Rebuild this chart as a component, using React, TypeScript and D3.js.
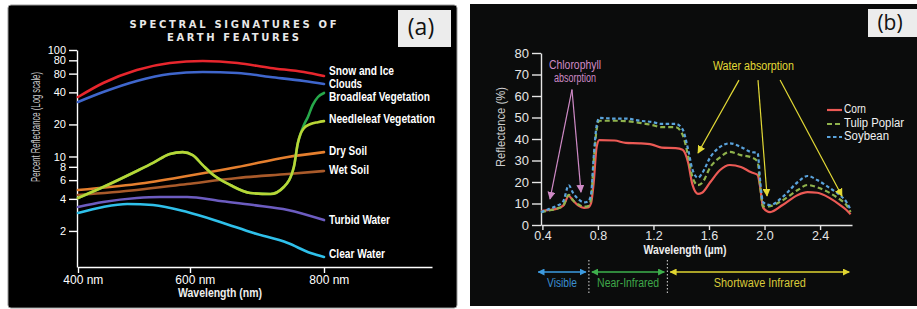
import React, { useRef, useEffect } from 'react';
import * as d3 from 'd3';

// ---------- panel (a): spectral signatures of earth features ----------
const snowNm = [400, 445, 505, 564, 619, 671, 720, 770, 800];
const snowPct = [36.2, 49, 64.9, 75.5, 78.8, 75.5, 67.8, 62.1, 57];
const cloudsPct = [32.5, 40.3, 51.2, 59.5, 62.1, 60.8, 55.8, 51.2, 48];

const broadleafNm = [400, 445, 505, 534, 564, 587, 604, 619, 635, 660, 690, 720, 740, 755, 761, 765, 770, 776, 783, 791, 800];
const broadleafPct = [4.08, 5.17, 7.31, 8.7, 10.55, 11.0, 10.3, 8.3, 6.7, 5.4, 4.54, 4.44, 5.17, 7.96, 13.4, 16.3, 19.8, 23.5, 30.4, 36.2, 39.5];
const needleleafNm = [400, 445, 505, 534, 564, 587, 604, 619, 635, 660, 690, 720, 740, 755, 761, 765, 770, 780, 791, 800];
const needleleafPct = [4.08, 5.17, 7.31, 8.7, 10.55, 11.0, 10.3, 8.3, 6.7, 5.4, 4.54, 4.44, 5.17, 7.96, 13.4, 16.3, 18.4, 20.2, 21.0, 21.5];

const soilNm = [400, 505, 595, 671, 746, 800];
const drySoilPct = [4.85, 5.52, 6.56, 7.96, 9.9, 11.0];
const wetSoilPct = [4.35, 4.85, 5.52, 6.28, 6.85, 7.31];

const turbidNm = [400, 445, 505, 546, 595, 645, 695, 746, 800];
const turbidPct = [3.36, 3.74, 4.08, 4.17, 4.17, 3.82, 3.5, 3.15, 2.53];
const clearNm = [400, 445, 488, 534, 595, 645, 695, 746, 780, 800];
const clearPct = [2.95, 3.36, 3.58, 3.5, 3.01, 2.43, 1.91, 1.54, 1.24, 1.14];

const aTickValues = [100, 80, 60, 40, 20, 10, 8, 6, 4, 2];
const aTickLabels = ['100', '80', '80', '40', '20', '10', '8', '6', '4', '2'];
const aXTicks = [400, 600, 800];

// ---------- panel (b): vegetation reflectance ----------
const bWavelength = [0.39, 0.45, 0.5, 0.55, 0.59, 0.62, 0.66, 0.7, 0.73, 0.75, 0.77, 0.79, 0.81, 0.92, 1.0, 1.1, 1.19, 1.26, 1.36, 1.41, 1.45, 1.48, 1.52, 1.55, 1.61, 1.68, 1.75, 1.83, 1.9, 1.95, 1.97, 1.99, 2.04, 2.13, 2.24, 2.31, 2.38, 2.47, 2.54, 2.59, 2.62];
const cornPct = [6.5, 7, 7.5, 9, 13.5, 11.5, 9, 8, 8.2, 10, 20, 36, 39.5, 39.3, 38.2, 38, 37.4, 36, 35.8, 35, 29, 19, 14.5, 15, 20, 25.6, 27.9, 27, 24.6, 23.3, 17, 8, 6, 9.3, 14, 15.3, 15, 12.5, 9.5, 7, 5];
const tulipPct = [6, 6.8, 7.5, 9, 14, 11.5, 9.5, 8.5, 8.8, 12, 30, 44, 48.5, 48.5, 48.3, 47.5, 46.5, 45.5, 45.5, 42, 32, 22.5, 18.5, 19.5, 27, 31.5, 34, 32.5, 31.6, 29.5, 17, 8.6, 8.8, 11.5, 16.3, 18.6, 17.5, 14.9, 12, 9.3, 6];
const soybeanPct = [6, 7.5, 8.8, 11, 18.5, 15, 12, 10.5, 11, 14, 32, 46, 49.8, 49.5, 49.5, 48.5, 47.9, 47, 47, 44.5, 35, 26, 22, 24, 31.6, 36.3, 38, 36.3, 34, 33.5, 19.5, 10.5, 9.3, 13, 20, 22.8, 20.9, 17.2, 14, 10.7, 7];
const bXTicks = [0.4, 0.8, 1.2, 1.6, 2.0, 2.4];
const bYTicks = [0, 10, 20, 30, 40, 50, 60, 70, 80];
const bandEdges = [0.37, 0.735, 1.3, 2.61];
const bandNames = ['Visible', 'Near-Infrared', 'Shortwave Infrared'];

const FONT = "'Liberation Sans', Arial, sans-serif";

const AxisG = ({ axis, transform, color, size, dx }: any) => {
  const ref = useRef<SVGGElement>(null);
  useEffect(() => {
    const g = d3.select(ref.current!);
    g.selectAll('*').remove();
    g.call(axis);
    g.attr('font-family', FONT);
    g.selectAll('path, line').attr('stroke', color).attr('stroke-width', 1.4);
    g.selectAll('text').attr('fill', color).attr('font-size', size);
    if (dx) g.selectAll('text').attr('dx', dx);
  }, [axis]);
  return <g ref={ref} transform={transform} />;
};

const Label = ({ x, y, w, size = 12, weight = 'bold', fill = '#fff', anchor = 'start', transform, children }: any) => (
  <text
    x={x}
    y={y}
    transform={transform}
    fontFamily={FONT}
    fontSize={size}
    fontWeight={weight}
    fill={fill}
    textAnchor={anchor}
    dominantBaseline="middle"
    textLength={w}
    lengthAdjust="spacingAndGlyphs"
  >
    {children}
  </text>
);

const PanelA = () => {
  const x = d3.scaleLinear().domain([400, 600, 800, 962]).range([78, 190, 324, 432]);
  const y = d3.scaleLog().domain([0.917, 100]).range([267, 50]);
  const line = (nm: number[], v: number[]) =>
    d3.line<number>().x((_, i) => x(nm[i])).y((d) => y(d)).curve(d3.curveMonotoneX)(v) || '';

  const series = [
    { nm: clearNm, v: clearPct, c: '#2fc0ea' },
    { nm: turbidNm, v: turbidPct, c: '#6c5cc0' },
    { nm: soilNm, v: wetSoilPct, c: '#a95a2a' },
    { nm: soilNm, v: drySoilPct, c: '#e57f2e' },
    { nm: broadleafNm, v: broadleafPct, c: '#27a84a' },
    { nm: needleleafNm, v: needleleafPct, c: '#b9d536' },
    { nm: snowNm, v: cloudsPct, c: '#3f66cc' },
    { nm: snowNm, v: snowPct, c: '#e8262d' },
  ];

  const yAxis = d3.axisLeft(y).tickValues(aTickValues).tickFormat((_, i) => aTickLabels[i]).tickSize(8).tickSizeOuter(0).tickPadding(3);
  const xAxis = d3.axisBottom(x).tickValues(aXTicks).tickFormat((d) => `${d} nm`).tickSize(6).tickSizeOuter(0).tickPadding(2);

  const labels = [
    { t: 'Snow and Ice', y: 72, w: 65 },
    { t: 'Clouds', y: 84.5, w: 33 },
    { t: 'Broadleaf Vegetation', y: 97.5, w: 101 },
    { t: 'Needleleaf Vegetation', y: 120, w: 106 },
    { t: 'Dry Soil', y: 152, w: 38 },
    { t: 'Wet Soil', y: 171, w: 40 },
    { t: 'Turbid Water', y: 221, w: 61 },
    { t: 'Clear Water', y: 255, w: 56 },
  ];

  return (
    <g>
      <rect x={8} y={5} width={449} height={303} rx={3} fill="#000" stroke="#999" strokeWidth={1} />
      <text x={233} y={25} textAnchor="middle" dominantBaseline="middle" fontFamily="'DejaVu Sans', sans-serif" fontWeight="bold" fontSize={10} fill="#e8e8e8" textLength={207} lengthAdjust="spacing">
        SPECTRAL SIGNATURES OF
      </text>
      <text x={233} y={38} textAnchor="middle" dominantBaseline="middle" fontFamily="'DejaVu Sans', sans-serif" fontWeight="bold" fontSize={10} fill="#e8e8e8" textLength={132} lengthAdjust="spacing">
        EARTH FEATURES
      </text>
      <rect x={398} y={10} width={53} height={37} fill="#ececec" />
      <text x={421} y={29} textAnchor="middle" dominantBaseline="middle" fontFamily="'Open Sans', sans-serif" fontSize={23} fill="#111">
        (a)
      </text>
      <AxisG axis={yAxis} transform="translate(77,0)" color="#fff" size={11} />
      <AxisG axis={xAxis} transform="translate(0,267)" color="#fff" size={12} dx="0.4em" />
      {series.map((s, i) => (
        <path key={i} d={line(s.nm, s.v)} fill="none" stroke={s.c} strokeWidth={2.6} strokeLinecap="round" />
      ))}
      {labels.map((l) => (
        <Label key={l.t} x={329} y={l.y} w={l.w} size={12}>
          {l.t}
        </Label>
      ))}
      <Label x={220} y={294} w={84} anchor="middle" size={12.5} fill="#eee">
        Wavelength (nm)
      </Label>
      <Label transform="rotate(-90, 37, 127)" x={37} y={127} w={110} anchor="middle" size={12} weight="normal" fill="#ccc">
        Percent Reflectance (Log scale)
      </Label>
    </g>
  );
};

const PanelB = () => {
  const x = d3.scaleLinear().domain([0.39, 2.63]).range([541, 852]);
  const y = d3.scaleLinear().domain([0, 80]).range([225, 53]);
  const line = d3.line<number>().x((_, i) => x(bWavelength[i])).y((d) => y(d)).curve(d3.curveMonotoneX);

  const xAxis = d3.axisBottom(x).tickValues(bXTicks).tickFormat(d3.format('.1f')).tickSize(5).tickSizeOuter(0).tickPadding(1);
  const yAxis = d3.axisLeft(y).tickValues(bYTicks).tickSize(9).tickSizeOuter(0).tickPadding(3);

  const pink = '#cf8ac6';
  const yellow = '#e3da36';
  const bandColors = ['#3d9be0', '#3eb04c', '#e0d530'];
  const bandText = ['#3b8fd0', '#3fa84a', '#d9ca3a'];

  const legend = [
    { t: 'Corn', c: '#ec5a55', dash: 'none', w: 22, y: 110 },
    { t: 'Tulip Poplar', c: '#8fb24c', dash: '5,3', w: 60, y: 124 },
    { t: 'Soybean', c: '#5aa3dc', dash: '3.5,2.5', w: 45, y: 137 },
  ];

  const chloroArrows = [
    { from: [0.613, 63], to: [0.455, 12.1] },
    { from: [0.613, 63], to: [0.678, 15.3] },
  ];
  const waterArrows = [
    { from: [1.816, 67.4], to: [1.521, 33.5] },
    { from: [1.953, 67.4], to: [2.018, 13.5] },
    { from: [2.112, 67.4], to: [2.558, 13.5] },
  ];

  return (
    <g>
      <defs>
        <marker id="hPink" viewBox="0 0 10 10" refX="9" refY="5" markerWidth={8} markerHeight={8} markerUnits="userSpaceOnUse" orient="auto">
          <path d="M0,0 L10,5 L0,10 z" fill={pink} />
        </marker>
        <marker id="hYellow" viewBox="0 0 10 10" refX="9" refY="5" markerWidth={8} markerHeight={8} markerUnits="userSpaceOnUse" orient="auto">
          <path d="M0,0 L10,5 L0,10 z" fill={yellow} />
        </marker>
        {bandColors.map((c, i) => (
          <marker key={i} id={`hBand${i}`} viewBox="0 0 10 10" refX="9" refY="5" markerWidth={7} markerHeight={7} markerUnits="userSpaceOnUse" orient="auto-start-reverse">
            <path d="M0,0 L10,5 L0,10 z" fill={c} />
          </marker>
        ))}
      </defs>
      <rect x={470} y={4} width={447} height={302} fill="#0b0c0c" />
      <rect x={868} y={9} width={49} height={28} fill="#ececec" />
      <text x={890} y={24} textAnchor="middle" dominantBaseline="middle" fontFamily="'Open Sans', sans-serif" fontSize={21} fill="#111">
        (b)
      </text>

      <AxisG axis={yAxis} transform="translate(541,0)" color="#e6e6e6" size={13} />
      <AxisG axis={xAxis} transform="translate(0,225)" color="#e6e6e6" size={12.5} />

      <path d={line(cornPct) || ''} fill="none" stroke="#ec5a55" strokeWidth={2.2} />
      <path d={line(tulipPct) || ''} fill="none" stroke="#8fb24c" strokeWidth={2.2} strokeDasharray="5,3" />
      <path d={line(soybeanPct) || ''} fill="none" stroke="#5aa3dc" strokeWidth={2.2} strokeDasharray="3.5,2.5" />

      {chloroArrows.map((a, i) => (
        <line key={i} x1={x(a.from[0])} y1={y(a.from[1])} x2={x(a.to[0])} y2={y(a.to[1])} stroke={pink} strokeWidth={1.2} markerEnd="url(#hPink)" />
      ))}
      {waterArrows.map((a, i) => (
        <line key={i} x1={x(a.from[0])} y1={y(a.from[1])} x2={x(a.to[0])} y2={y(a.to[1])} stroke={yellow} strokeWidth={1.2} markerEnd="url(#hYellow)" />
      ))}
      <Label x={x(0.635)} y={66} w={52} anchor="middle" size={12} weight="normal" fill={pink}>
        Chlorophyll
      </Label>
      <Label x={x(0.635)} y={78.5} w={42} anchor="middle" size={12} weight="normal" fill={pink}>
        absorption
      </Label>
      <Label x={x(1.92)} y={67} w={81} anchor="middle" size={12.5} weight="normal" fill={yellow}>
        Water absorption
      </Label>

      {legend.map((l) => (
        <g key={l.t}>
          <line x1={827} x2={842} y1={l.y} y2={l.y} stroke={l.c} strokeWidth={2.2} strokeDasharray={l.dash} />
          <Label x={844} y={l.y} w={l.w} size={12} weight="normal" fill="#f0f0f0">
            {l.t}
          </Label>
        </g>
      ))}

      <Label x={685} y={251} w={83} anchor="middle" size={12} fill="#eee">
        Wavelength (µm)
      </Label>
      <Label transform="rotate(-90, 502, 127)" x={502} y={127} w={80} anchor="middle" size={12.5} weight="normal" fill="#ccc">
        Reflectence (%)
      </Label>

      {bandNames.map((n, i) => {
        const x0 = x(bandEdges[i]) + (i === 0 ? 0 : 3);
        const x1 = x(bandEdges[i + 1]) - (i === 2 ? 0 : 3);
        const widths = [30, 62, 92];
        return (
          <g key={n}>
            <line x1={x0} x2={x1} y1={272} y2={272} stroke={bandColors[i]} strokeWidth={1.6} markerStart={`url(#hBand${i})`} markerEnd={`url(#hBand${i})`} />
            <Label x={(x0 + x1) / 2} y={284} w={widths[i]} anchor="middle" size={12.5} weight="normal" fill={bandText[i]}>
              {n}
            </Label>
          </g>
        );
      })}
      {bandEdges.slice(1, 3).map((e) => (
        <line key={e} x1={x(e)} x2={x(e)} y1={260} y2={293} stroke="#ddd" strokeWidth={1} strokeDasharray="1.5,2" />
      ))}
    </g>
  );
};

export default function App() {
  return (
    <svg width={917} height={309} style={{ position: 'absolute', left: 0, top: 0, background: '#fff' }}>
      <PanelA />
      <PanelB />
    </svg>
  );
}
